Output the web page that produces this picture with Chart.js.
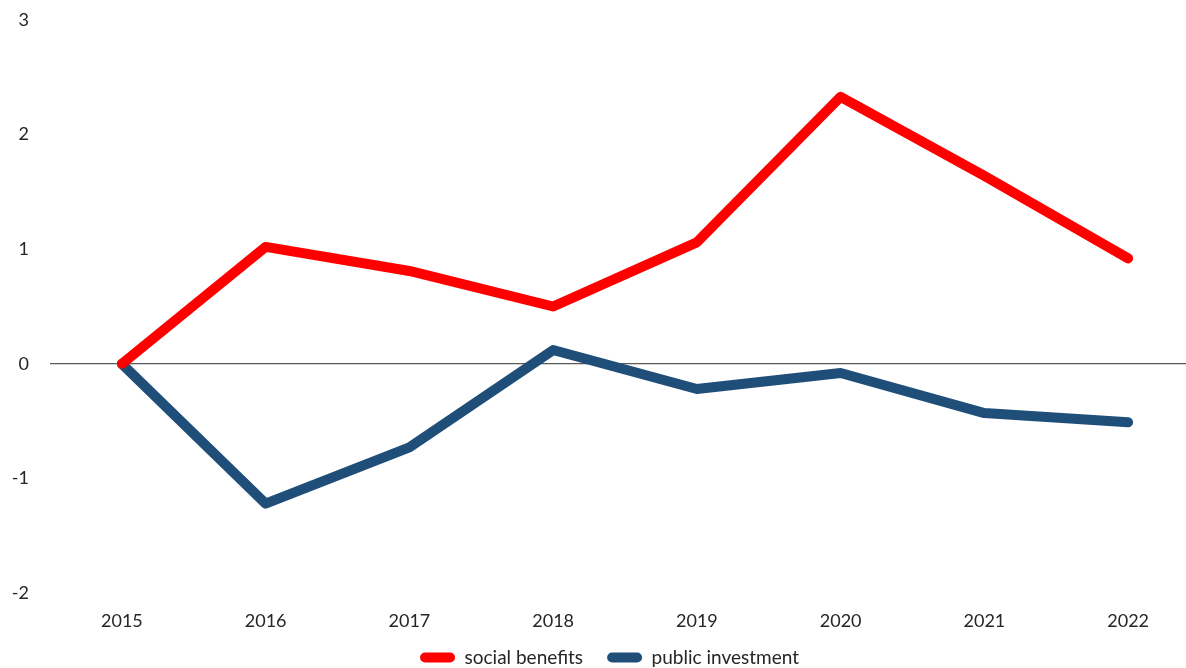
<!DOCTYPE html>
<html>
<head>
<meta charset="utf-8">
<script src="https://cdn.jsdelivr.net/npm/chart.js@4.4.1/dist/chart.umd.min.js"></script>
<style>
  html, body { margin: 0; padding: 0; background: #ffffff; overflow: hidden; }
  #wrap { width: 1205px; height: 668px; }
</style>
</head>
<body>
<div id="wrap"><canvas id="chart" width="1205" height="668"></canvas></div>
<script>
// Change since 2015, percentage points
const years = ['2015', '2016', '2017', '2018', '2019', '2020', '2021', '2022'];
const socialBenefits = [0, 1.02, 0.81, 0.50, 1.06, 2.33, 1.64, 0.92];
const publicInvestment = [0, -1.22, -0.73, 0.12, -0.22, -0.08, -0.43, -0.51];
const yTicks = [-2, -1, 0, 1, 2, 3];

const textColor = '#262626';
const fontFamily = 'Lato, "Open Sans", "Liberation Sans", sans-serif';

// Nudges the legend row so it sits centred under the visible plot
const legendShift = {
  id: 'legendShift',
  afterLayout(c) {
    if (c.legend) { c.legend.left += 7; c.legend.right += 7; }
  }
};

const chart = new Chart(document.getElementById('chart'), {
  type: 'line',
  data: {
    labels: years,
    datasets: [
      {
        label: 'social benefits',
        data: socialBenefits,
        borderColor: '#ff0000',
        backgroundColor: '#ff0000',
        borderWidth: 10,
        borderCapStyle: 'round',
        borderJoinStyle: 'round',
        pointRadius: 0,
        tension: 0
      },
      {
        label: 'public investment',
        data: publicInvestment,
        borderColor: '#1f4e79',
        backgroundColor: '#1f4e79',
        borderWidth: 10,
        borderCapStyle: 'round',
        borderJoinStyle: 'round',
        pointRadius: 0,
        tension: 0
      }
    ]
  },
  plugins: [legendShift],
  options: {
    responsive: false,
    animation: false,
    layout: { padding: { top: 20, right: 0, bottom: 0, left: 0 } },
    plugins: {
      tooltip: { enabled: false },
      legend: {
        position: 'bottom',
        labels: {
          color: textColor,
          font: { family: fontFamily, size: 19 },
          boxWidth: 35,
          boxHeight: 10,
          useBorderRadius: true,
          borderRadius: 5,
          padding: 24,
          generateLabels: (c) => Chart.defaults.plugins.legend.labels.generateLabels(c)
            .map(item => Object.assign(item, { lineWidth: 0, strokeStyle: 'rgba(0,0,0,0)' }))
        }
      }
    },
    scales: {
      x: {
        offset: true,
        grid: { display: false, drawTicks: false },
        border: { display: false },
        ticks: {
          color: textColor,
          font: { family: fontFamily, size: 18 },
          padding: 17,
          maxRotation: 0
        },
        afterFit: (scale) => {
          scale.height = 31;
          scale.paddingLeft = 0;
          scale.paddingRight = 0;
          // let the year labels run past the axis band
          scale._computeLabelArea = () => undefined;
        }
      },
      y: {
        min: -2,
        max: 3,
        afterBuildTicks: (scale) => { scale.ticks = yTicks.map(v => ({ value: v })); },
        grid: {
          drawTicks: false,
          color: (ctx) => (ctx.tick && ctx.tick.value === 0 ? '#595959' : 'rgba(0,0,0,0)'),
          lineWidth: 1.3
        },
        border: { display: false },
        ticks: {
          color: textColor,
          font: { family: fontFamily, size: 18 },
          padding: 21
        },
        afterFit: (scale) => {
          scale.width = 50;
          scale.paddingTop = 0;
          scale.paddingBottom = 0;
        }
      }
    }
  }
});

// Keep the legend band compact under the axis labels
const baseFit = chart.legend.fit.bind(chart.legend);
chart.legend.fit = function () { baseFit(); this.height = 44; };
chart.update();
</script>
</body>
</html>
